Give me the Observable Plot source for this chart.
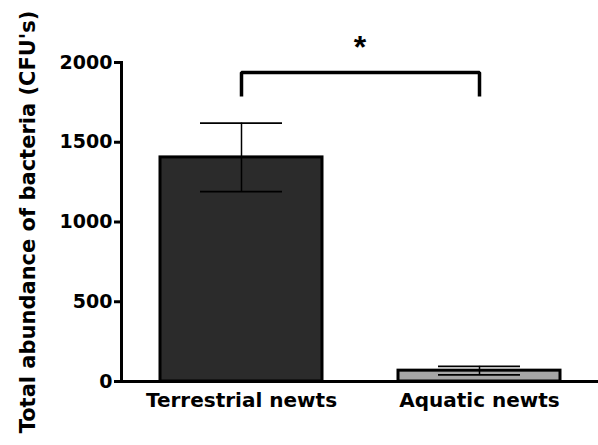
<!DOCTYPE html>
<html>
<head>
<meta charset="utf-8">
<script src="https://cdn.jsdelivr.net/npm/d3@7"></script>
<script src="https://cdn.jsdelivr.net/npm/@observablehq/plot@0.6"></script>
<style>
  html, body { margin: 0; padding: 0; background: #fff; }
  #chart svg { display: block; }
</style>
</head>
<body>
<div id="chart"></div>
<script>
// ---- data ----
const groups = ["Terrestrial newts", "Aquatic newts"];
const means = [1405, 68];
const errors = [215, 27];
const fills = ["#2b2b2b", "#a6a6a6"];
const yTicks = [0, 500, 1000, 1500, 2000];
const yLabel = "Total abundance of bacteria (CFU's)";
const bracketLow = 1787;
const bracketHigh = 1937;
const starLabel = "*";
const starY = 2095;

const data = groups.map((g, i) => ({group: g, mean: means[i], err: errors[i], fill: fills[i]}));
const bracket = [
  {x: groups[0], y: bracketLow},
  {x: groups[0], y: bracketHigh},
  {x: groups[1], y: bracketHigh},
  {x: groups[1], y: bracketLow}
];

const font = "DejaVu Sans, Liberation Sans, sans-serif";

const chart = Plot.plot({
  width: 598,
  height: 445,
  marginTop: 62,
  marginBottom: 64,
  marginLeft: 121,
  marginRight: 0,
  style: {fontFamily: font, color: "#000", background: "#fff", overflow: "visible"},
  x: {domain: groups, paddingInner: 0.32, paddingOuter: 0.16, label: null},
  y: {domain: [0, 2000], label: null},
  marks: [
    Plot.barY(data, {x: "group", y: "mean", fill: "fill", stroke: "#000", strokeWidth: 3}),
    Plot.ruleX(data, {x: "group", y1: d => d.mean - d.err, y2: d => d.mean + d.err, stroke: "#000", strokeWidth: 1.5}),
    Plot.tickY(data, {x: "group", y: d => d.mean + d.err, inset: 40, stroke: "#000", strokeWidth: 1.8}),
    Plot.tickY(data, {x: "group", y: d => d.mean - d.err, inset: 40, stroke: "#000", strokeWidth: 1.8}),
    Plot.line(bracket, {x: "x", y: "y", stroke: "#000", strokeWidth: 3.5, strokeLinejoin: "miter", strokeLinecap: "butt", clip: false}),
    Plot.text([starLabel], {text: d => d, y: () => starY, frameAnchor: "middle", fontSize: 32, fontWeight: "bold", fontFamily: "Liberation Sans, Arial, sans-serif", clip: false}),
    Plot.frame({anchor: "left", stroke: "#000", strokeWidth: 3}),
    Plot.ruleY([0], {stroke: "#000", strokeWidth: 3}),
    Plot.axisY({ticks: yTicks, tickFormat: d => String(d), tickSize: 7, tickPadding: 2, strokeWidth: 3, fontSize: 19, fontWeight: "bold", label: null}),
    Plot.axisX({tickSize: 0, tickPadding: 11, fontSize: 20, fontWeight: "bold", label: null}),
    Plot.text([yLabel], {text: d => d, frameAnchor: "left", textAnchor: "middle", rotate: -90, dx: -93, fontSize: 21, fontWeight: "bold"})
  ]
});
document.getElementById("chart").appendChild(chart);
</script>
</body>
</html>
